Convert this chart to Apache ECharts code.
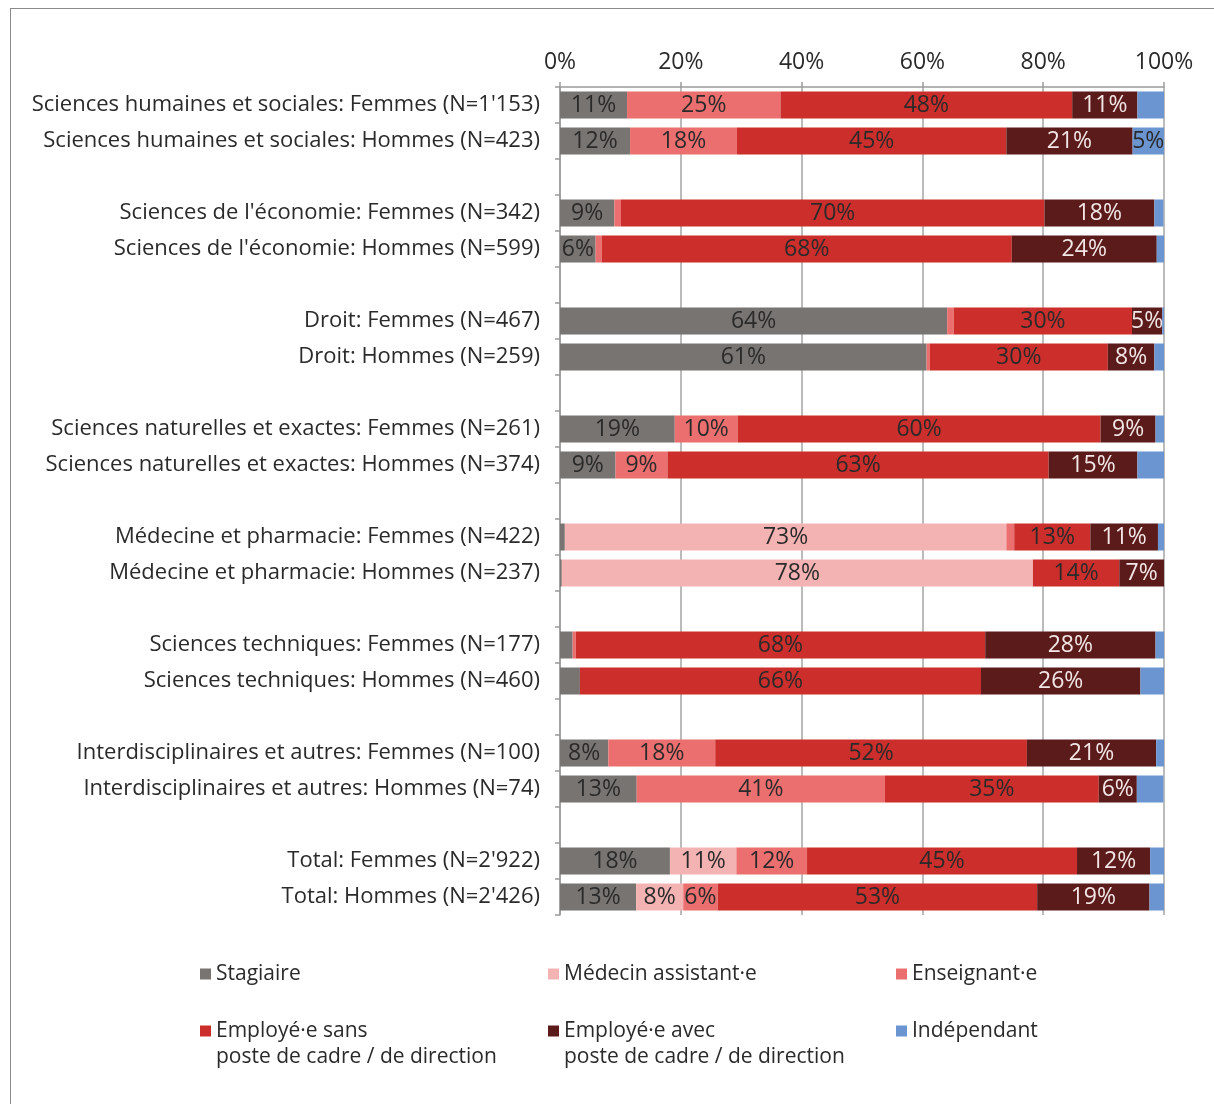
<!DOCTYPE html>
<html>
<head>
<meta charset="utf-8">
<script src="https://cdn.jsdelivr.net/npm/echarts@6/dist/echarts.min.js"></script>
<style>
html,body{margin:0;padding:0;background:#fff;}
#frame{position:absolute;left:10px;top:8px;width:1220px;height:1120px;border:1.5px solid #8a8a8a;box-sizing:border-box;}
#chart{position:absolute;left:0;top:0;width:1214px;height:1104px;}
</style>
</head>
<body>
<div id="frame"></div>
<div id="chart"></div>
<script>
const categories = [
  "Sciences humaines et sociales: Femmes (N=1'153)",
  "Sciences humaines et sociales: Hommes (N=423)",
  "",
  "Sciences de l'économie: Femmes (N=342)",
  "Sciences de l'économie: Hommes (N=599)",
  " ",
  "Droit: Femmes (N=467)",
  "Droit: Hommes (N=259)",
  "  ",
  "Sciences naturelles et exactes: Femmes (N=261)",
  "Sciences naturelles et exactes: Hommes (N=374)",
  "   ",
  "Médecine et pharmacie: Femmes (N=422)",
  "Médecine et pharmacie: Hommes (N=237)",
  "    ",
  "Sciences techniques: Femmes (N=177)",
  "Sciences techniques: Hommes (N=460)",
  "     ",
  "Interdisciplinaires et autres: Femmes (N=100)",
  "Interdisciplinaires et autres: Hommes (N=74)",
  "      ",
  "Total: Femmes (N=2'922)",
  "Total: Hommes (N=2'426)"
];
const seriesNames = [
  "Stagiaire",
  "Médecin assistant·e",
  "Enseignant·e",
  "Employé·e sans poste de cadre / de direction",
  "Employé·e avec poste de cadre / de direction",
  "Indépendant"
];
const stagiaire  = [11.1, 11.6, null, 9.0, 5.9, null, 64.1, 60.7, null, 19.0, 9.2, null, 0.8, 0.3, null, 2.1, 3.3, null, 8.0, 12.7, null, 18.2, 12.6];
const medecin    = [0, 0, null, 0, 0, null, 0, 0, null, 0, 0, null, 73.1, 78.0, null, 0, 0, null, 0, 0, null, 11.0, 7.8];
const enseignant = [25.4, 17.7, null, 1.1, 1.0, null, 1.1, 0.5, null, 10.4, 8.6, null, 1.3, 0, null, 0.5, 0, null, 17.7, 41.1, null, 11.7, 5.7];
const sansCadre  = [48.3, 44.6, null, 70.1, 67.9, null, 29.5, 29.5, null, 60.1, 63.1, null, 12.6, 14.3, null, 67.8, 66.4, null, 51.6, 35.4, null, 44.7, 52.9];
const avecCadre  = [10.8, 20.9, null, 18.2, 24.0, null, 5.0, 7.7, null, 9.1, 14.7, null, 11.2, 7.4, null, 28.2, 26.4, null, 21.4, 6.3, null, 12.1, 18.6];
const independ   = [4.4, 5.2, null, 1.5, 1.2, null, 0.3, 1.6, null, 1.5, 4.4, null, 1.0, 0, null, 1.4, 3.9, null, 1.3, 4.4, null, 2.3, 2.4];
const xTicks = [0, 20, 40, 60, 80, 100];

const colors = ['#787471', '#f4b3b3', '#ec6f6f', '#cb2e2b', '#5a1b1a', '#6b95d0'];
const labelColors = ['#2a2a2a', '#2a2a2a', '#2a2a2a', '#2a2a2a', '#f3e6e6', '#2a2a2a'];
const dataSets = [stagiaire, medecin, enseignant, sansCadre, avecCadre, independ];
const FONT = "'Open Sans', 'Noto Sans', sans-serif";

const series = dataSets.map((d, i) => ({
  name: seriesNames[i],
  type: 'bar',
  stack: 'total',
  barCategoryGap: '25%',
  itemStyle: { color: colors[i] },
  label: {
    show: true,
    position: 'inside',
    color: labelColors[i],
    fontFamily: FONT,
    fontSize: 23,
    formatter: p => (p.value != null && p.value >= 4.5) ? Math.round(p.value) + '%' : ''
  },
  data: d
}));

const legendPos = [
  { left: 200, top: 961 }, { left: 548, top: 961 }, { left: 896, top: 961 },
  { left: 200, top: 992 }, { left: 548, top: 992 }, { left: 896, top: 1018 }
];
const legendText = {
  "Employé·e sans poste de cadre / de direction": "\u00a0\nEmployé·e sans\nposte de cadre / de direction",
  "Employé·e avec poste de cadre / de direction": "\u00a0\nEmployé·e avec\nposte de cadre / de direction"
};
const legends = seriesNames.map((n, i) => ({
  data: [n],
  left: legendPos[i].left,
  top: legendPos[i].top,
  orient: 'horizontal',
  padding: 0,
  itemWidth: 11,
  itemHeight: 11,
  itemGap: 0,
  icon: 'rect',
  selectedMode: false,
  formatter: name => legendText[name] || name,
  textStyle: {
    fontFamily: FONT,
    fontSize: 21,
    color: '#2a2a2a',
    lineHeight: 26
  }
}));

const chart = echarts.init(document.getElementById('chart'), null, { renderer: 'canvas' });
chart.setOption({
  animation: false,
  backgroundColor: 'transparent',
  grid: { left: 560, right: 50, top: 87, bottom: 189, containLabel: false },
  legend: legends,
  xAxis: {
    type: 'value',
    position: 'top',
    min: xTicks[0],
    max: xTicks[xTicks.length - 1],
    interval: 20,
    axisLine: { show: true, lineStyle: { color: '#9a9a9a', width: 1.5 } },
    axisTick: { show: true, length: 5, lineStyle: { color: '#9a9a9a', width: 1.5 } },
    splitLine: { show: true, lineStyle: { color: '#a5a5a5', width: 1.5 } },
    axisLabel: { formatter: '{value}%', fontFamily: FONT, fontSize: 23, color: '#2a2a2a', margin: 13 }
  },
  yAxis: {
    type: 'category',
    inverse: true,
    data: categories,
    axisLine: { show: true, lineStyle: { color: '#9a9a9a', width: 1.5 } },
    axisTick: { show: true, length: 5, alignWithLabel: false, lineStyle: { color: '#9a9a9a', width: 1.5 } },
    axisLabel: { fontFamily: FONT, fontSize: 22, color: '#2a2a2a', margin: 20, interval: 0 }
  },
  series: series
});
</script>
</body>
</html>
